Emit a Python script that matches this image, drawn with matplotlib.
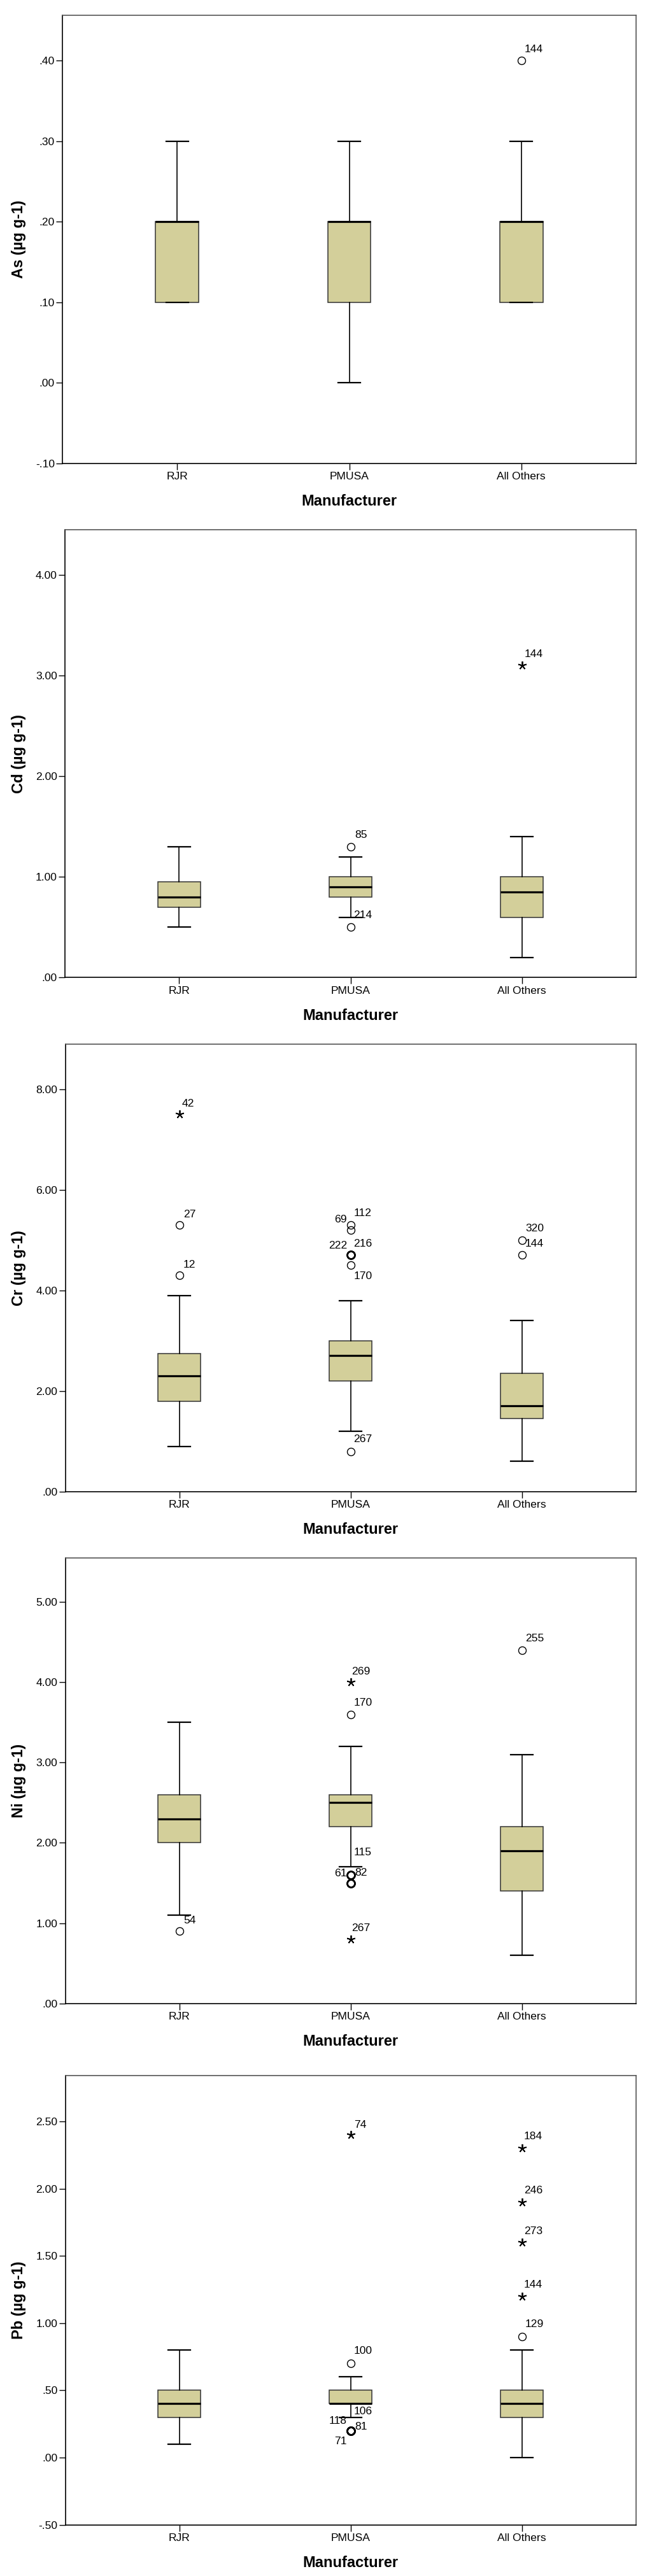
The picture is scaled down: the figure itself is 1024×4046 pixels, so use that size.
import matplotlib
matplotlib.use("Agg")
import matplotlib.pyplot as plt
from matplotlib.ticker import FuncFormatter
from collections import Counter

plt.rcParams['font.family'] = ['Liberation Sans', 'DejaVu Sans']

# ---------------- data ----------------
categories = ["RJR", "PMUSA", "All Others"]
x_title = "Manufacturer"

# As
as_low = [0.10, 0.00, 0.10]
as_q1 = [0.10, 0.10, 0.10]
as_med = [0.20, 0.20, 0.20]
as_q3 = [0.20, 0.20, 0.20]
as_high = [0.30, 0.30, 0.30]
as_out_group = [3]
as_out_value = [0.40]
as_out_kind = ["o"]
as_out_label = ["144"]

# Cd
cd_low = [0.50, 0.60, 0.20]
cd_q1 = [0.70, 0.80, 0.60]
cd_med = [0.80, 0.90, 0.85]
cd_q3 = [0.95, 1.00, 1.00]
cd_high = [1.30, 1.20, 1.40]
cd_out_group = [2, 2, 3]
cd_out_value = [1.30, 0.50, 3.10]
cd_out_kind = ["o", "o", "*"]
cd_out_label = ["85", "214", "144"]

# Cr
cr_low = [0.90, 1.20, 0.60]
cr_q1 = [1.80, 2.20, 1.45]
cr_med = [2.30, 2.70, 1.70]
cr_q3 = [2.75, 3.00, 2.35]
cr_high = [3.90, 3.80, 3.40]
cr_out_group = [1, 1, 1, 2, 2, 2, 2, 2, 2, 3, 3]
cr_out_value = [7.50, 5.30, 4.30, 5.30, 5.20, 4.70, 4.70, 4.50, 0.80, 5.00, 4.70]
cr_out_kind = ["*", "o", "o", "o", "o", "o", "o", "o", "o", "o", "o"]
cr_out_label = ["42", "27", "12", "112", "69", "216", "222", "170", "267", "320", "144"]

# Ni
ni_low = [1.10, 1.70, 0.60]
ni_q1 = [2.00, 2.20, 1.40]
ni_med = [2.30, 2.50, 1.90]
ni_q3 = [2.60, 2.60, 2.20]
ni_high = [3.50, 3.20, 3.10]
ni_out_group = [1, 2, 2, 2, 2, 2, 2, 2, 3]
ni_out_value = [0.90, 4.00, 3.60, 1.60, 1.60, 1.50, 1.50, 0.80, 4.40]
ni_out_kind = ["o", "*", "o", "o", "o", "o", "o", "*", "o"]
ni_out_label = ["54", "269", "170", "82", "61", "115", "", "267", "255"]

# Pb
pb_low = [0.10, 0.30, 0.00]
pb_q1 = [0.30, 0.40, 0.30]
pb_med = [0.40, 0.40, 0.40]
pb_q3 = [0.50, 0.50, 0.50]
pb_high = [0.80, 0.60, 0.80]
pb_out_group = [2, 2, 2, 2, 2, 2, 3, 3, 3, 3, 3]
pb_out_value = [2.40, 0.70, 0.20, 0.20, 0.20, 0.20, 2.30, 1.90, 1.60, 1.20, 0.90]
pb_out_kind = ["*", "o", "o", "o", "o", "o", "*", "*", "*", "*", "o"]
pb_out_label = ["74", "100", "106", "118", "81", "71", "184", "246", "273", "144", "129"]

# ---------------- label offsets (pixels, centre of text relative to marker) ----------------
as_lab_off = [(19, 18)]
cd_lab_off = [(16, 18), (19, 18.5), (19, 17.5)]
cr_lab_off = [(14, 16.5), (16, 16.5), (16, 16.5), (19, 19), (-16, 16.5), (19, 18),
              (-20, 14.5), (19, -17), (19, 19), (20, 18.5), (20, 18)]
ni_lab_off = [(16, 17), (16, 17), (19, 18), (16, 3), (-16, 2), (19, 48), (0, 0),
              (16, 17.5), (20, 18.5)]
pb_lab_off = [(15, 15.5), (19, 19.5), (19, 30), (-20, 15.5), (16, 6), (-16, -16.5),
              (18, 18.5), (18, 18), (18, 18), (18, 18.5), (20, 19)]

panels = [
    dict(ylabel="As (\u00b5g g-1)", low=as_low, q1=as_q1, med=as_med, q3=as_q3, high=as_high,
         og=as_out_group, ov=as_out_value, ok=as_out_kind, ol=as_out_label, off=as_lab_off,
         ylim=(-0.1, 0.456), ticks=[-0.1, 0.0, 0.1, 0.2, 0.3, 0.4],
         box_px=(98, 999, 24.3, 727.7)),
    dict(ylabel="Cd (\u00b5g g-1)", low=cd_low, q1=cd_q1, med=cd_med, q3=cd_q3, high=cd_high,
         og=cd_out_group, ov=cd_out_value, ok=cd_out_kind, ol=cd_out_label, off=cd_lab_off,
         ylim=(0, 4.45), ticks=[0, 1, 2, 3, 4],
         box_px=(102, 999, 832, 1535.4)),
    dict(ylabel="Cr (\u00b5g g-1)", low=cr_low, q1=cr_q1, med=cr_med, q3=cr_q3, high=cr_high,
         og=cr_out_group, ov=cr_out_value, ok=cr_out_kind, ol=cr_out_label, off=cr_lab_off,
         ylim=(0, 8.9), ticks=[0, 2, 4, 6, 8],
         box_px=(102.5, 999, 1639.6, 2342.8)),
    dict(ylabel="Ni (\u00b5g g-1)", low=ni_low, q1=ni_q1, med=ni_med, q3=ni_q3, high=ni_high,
         og=ni_out_group, ov=ni_out_value, ok=ni_out_kind, ol=ni_out_label, off=ni_lab_off,
         ylim=(0, 5.55), ticks=[0, 1, 2, 3, 4, 5],
         box_px=(102.5, 999, 2447, 3146.6)),
    dict(ylabel="Pb (\u00b5g g-1)", low=pb_low, q1=pb_q1, med=pb_med, q3=pb_q3, high=pb_high,
         og=pb_out_group, ov=pb_out_value, ok=pb_out_kind, ol=pb_out_label, off=pb_lab_off,
         ylim=(-0.5, 2.84), ticks=[-0.5, 0, 0.5, 1.0, 1.5, 2.0, 2.5],
         box_px=(102.5, 999, 3260.3, 3965.5)),
]

W, H = 1024, 4046
DPI = 100
PX = 72.0 / DPI  # points per pixel
BOX_FILL = "#D3CF9A"
TICK_FS = 12.6
LABEL_FS = 17


def spss_fmt(v, pos=None):
    s = f"{v:.2f}"
    if s.startswith("0."):
        s = s[1:]
    elif s.startswith("-0."):
        s = "-" + s[2:]
    return s


fig = plt.figure(figsize=(W / DPI, H / DPI), dpi=DPI)
fig.patch.set_facecolor("white")

for p in panels:
    l, r, t, b = p["box_px"]
    ax = fig.add_axes([l / W, 1 - b / H, (r - l) / W, (b - t) / H])
    stats = []
    for i in range(len(categories)):
        stats.append(dict(whislo=p["low"][i], q1=p["q1"][i], med=p["med"][i],
                          q3=p["q3"][i], whishi=p["high"][i], fliers=[], label=categories[i]))
    ax.bxp(stats, positions=[1, 2, 3], widths=0.25, capwidths=0.13,
           patch_artist=True, showfliers=False,
           boxprops=dict(facecolor=BOX_FILL, edgecolor="#333333", linewidth=1.1),
           medianprops=dict(color="black", linewidth=2.3, solid_capstyle="butt"),
           whiskerprops=dict(color="black", linewidth=1.2),
           capprops=dict(color="black", linewidth=1.6))

    counts = Counter(zip(p["og"], p["ov"]))
    for g, v, k, lab, off in zip(p["og"], p["ov"], p["ok"], p["ol"], p["off"]):
        if k == "o":
            mew = 1.0 if counts[(g, v)] == 1 else 1.9
            ax.plot([g], [v], marker="o", markersize=8.6, markerfacecolor="none",
                    markeredgecolor="black", markeredgewidth=mew, linestyle="none", zorder=4)
        else:
            ax.plot([g], [v], marker=(5, 2, 0), markersize=9.5, markeredgecolor="black",
                    markeredgewidth=1.3, linestyle="none", zorder=4)
        if lab:
            ax.annotate(lab, xy=(g, v), xytext=(off[0] * PX, off[1] * PX),
                        textcoords="offset points", ha="center", va="center",
                        fontsize=TICK_FS, color="black", zorder=5)

    ax.set_xlim(1 / 3, 11 / 3)
    ax.set_ylim(*p["ylim"])
    ax.set_yticks(p["ticks"])
    ax.yaxis.set_major_formatter(FuncFormatter(spss_fmt))
    ax.set_xticks([1, 2, 3])
    ax.set_xticklabels(categories)
    ax.tick_params(axis="both", direction="out", length=7.2, width=1.0,
                   labelsize=TICK_FS, colors="black")
    ax.tick_params(axis="x", pad=2.5)
    ax.tick_params(axis="y", pad=1.5)
    for side in ["left", "bottom"]:
        ax.spines[side].set_color("black")
        ax.spines[side].set_linewidth(1.2)
    for side in ["top", "right"]:
        ax.spines[side].set_color("#555555")
        ax.spines[side].set_linewidth(1.2)

    axw = r - l
    axh = b - t
    ax.text((29.4 - l) / axw, 0.5, p["ylabel"], transform=ax.transAxes, rotation=90,
            ha="center", va="center", fontsize=LABEL_FS, fontweight="bold")
    ax.text(0.5, -60 / axh, x_title, transform=ax.transAxes, ha="center", va="center",
            fontsize=LABEL_FS, fontweight="bold")

fig.savefig("out.png", dpi=DPI, facecolor="white")
